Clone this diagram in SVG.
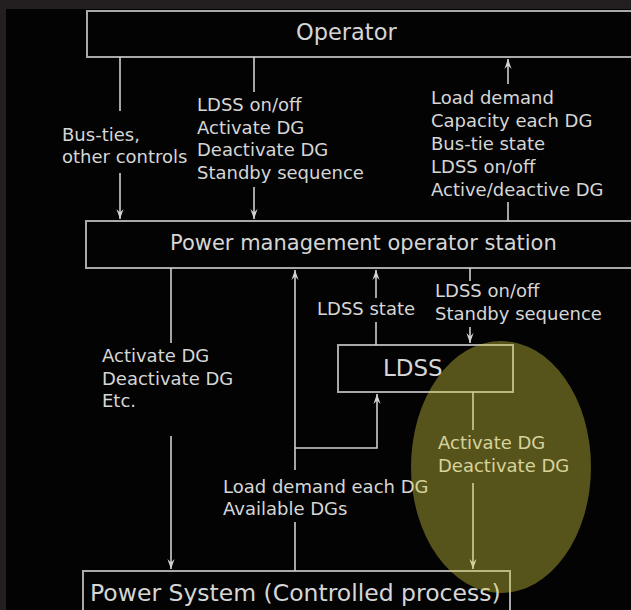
<svg xmlns="http://www.w3.org/2000/svg" width="631" height="610" viewBox="0 0 631 610">
  <defs>
    <marker id="ah" markerUnits="userSpaceOnUse" markerWidth="12" markerHeight="10" viewBox="-10 -5 12 10" refX="0" refY="0" orient="auto">
      <path d="M0,0 L-10,-3.6 L-6.5,0 L-10,3.6 Z" fill="#d2d2d2"/>
    </marker>
    <style>
      .box { fill: #030303; stroke: #a9a9a9; stroke-width: 2; }
      .ln { stroke: #cfcfcf; stroke-width: 1.6; fill: none; }
      .arr { stroke: #cfcfcf; stroke-width: 1.6; fill: none; marker-end: url(#ah); }
      .t { font-family: "DejaVu Sans", Verdana, sans-serif; fill: #d6d6d6; }
      .lbl { font-size: 18px; }
    </style>
  </defs>
  <rect x="0" y="0" width="631" height="610" fill="#030303"/>
  <rect x="0" y="0" width="631" height="9" fill="#231f20"/>
  <rect x="0" y="0" width="6" height="610" fill="#231f20"/>

  <g id="operator">
    <rect class="box" x="87" y="11" width="560" height="46"/>
    <text class="t" x="296" y="40" font-size="22.5">Operator</text>
  </g>
  <g id="pm-operator-station">
    <rect class="box" x="86" y="221" width="560" height="47"/>
    <text class="t" x="170" y="250" font-size="21">Power management operator station</text>
  </g>
  <g id="ldss">
    <rect class="box" x="338" y="345" width="175" height="47"/>
    <text class="t" x="383" y="376" font-size="23">LDSS</text>
  </g>
  <g id="power-system">
    <rect class="box" x="83" y="571" width="427" height="50"/>
    <text class="t" x="90" y="601" font-size="23.5">Power System (Controlled process)</text>
  </g>

  <g id="connectors">
    <!-- Operator -> PMOS: bus-ties -->
    <line class="ln" x1="120" y1="57" x2="120" y2="111"/>
    <line class="arr" x1="120" y1="173" x2="120" y2="219"/>
    <!-- Operator -> PMOS: LDSS on/off etc -->
    <line class="ln" x1="254" y1="57" x2="254" y2="92"/>
    <line class="arr" x1="254" y1="187" x2="254" y2="219"/>
    <!-- PMOS -> Operator -->
    <line class="ln" x1="508" y1="221" x2="508" y2="202"/>
    <line class="arr" x1="508" y1="84" x2="508" y2="59"/>
    <!-- PMOS -> Power System -->
    <line class="ln" x1="171" y1="268" x2="171" y2="343"/>
    <line class="arr" x1="171" y1="436" x2="171" y2="569"/>
    <!-- Power System -> PMOS and LDSS -->
    <line class="ln" x1="295" y1="571" x2="295" y2="522"/>
    <polyline class="arr" points="295,470 295,448 295,270"/>
    <polyline class="arr" points="295,448 377,448 377,394"/>
    <!-- LDSS -> PMOS -->
    <line class="ln" x1="376" y1="345" x2="376" y2="322"/>
    <line class="arr" x1="376" y1="298" x2="376" y2="270"/>
    <!-- PMOS -> LDSS -->
    <line class="ln" x1="470" y1="268" x2="470" y2="281"/>
    <line class="arr" x1="470" y1="327" x2="470" y2="343"/>
    <!-- LDSS -> Power System -->
    <line class="ln" x1="473" y1="392" x2="473" y2="430"/>
    <line class="arr" x1="473" y1="483" x2="473" y2="569"/>
  </g>

  <g id="labels" class="t lbl">
    <text x="62" y="141">Bus-ties,</text>
    <text x="62" y="163">other controls</text>
    <text x="197" y="111">LDSS on/off</text>
    <text x="197" y="133.5">Activate DG</text>
    <text x="197" y="156">Deactivate DG</text>
    <text x="197" y="178.5">Standby sequence</text>
    <text x="431" y="104">Load demand</text>
    <text x="431" y="127">Capacity each DG</text>
    <text x="431" y="150">Bus-tie state</text>
    <text x="431" y="173">LDSS on/off</text>
    <text x="431" y="196">Active/deactive DG</text>
    <text x="317" y="315">LDSS state</text>
    <text x="435" y="297">LDSS on/off</text>
    <text x="435" y="320">Standby sequence</text>
    <text x="102" y="362">Activate DG</text>
    <text x="102" y="385">Deactivate DG</text>
    <text x="102" y="407">Etc.</text>
    <text x="438" y="449">Activate DG</text>
    <text x="438" y="472">Deactivate DG</text>
    <text x="223" y="493">Load demand each DG</text>
    <text x="223" y="515">Available DGs</text>
  </g>

  <ellipse id="highlight" cx="501" cy="467" rx="90" ry="126" fill="#d8d040" fill-opacity="0.4"/>
</svg>
